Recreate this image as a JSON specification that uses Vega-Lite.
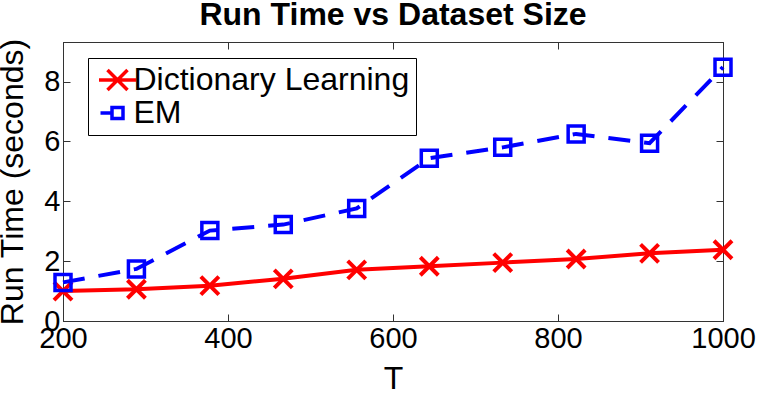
{
  "$schema": "https://vega.github.io/schema/vega-lite/v6.json",
  "width": 660,
  "height": 279,
  "autosize": "none",
  "padding": {"left": 63, "top": 42, "right": 38, "bottom": 76},
  "background": "white",
  "title": {
    "text": "Run Time vs Dataset Size",
    "font": "Liberation Sans",
    "fontSize": 32,
    "fontWeight": "bold",
    "color": "black",
    "anchor": "middle",
    "frame": "group",
    "baseline": "alphabetic",
    "offset": 15,
    "dy": 34
  },
  "data": {
    "values": [
      {"T": 200, "series": "Dictionary Learning", "time": 1.0},
      {"T": 289, "series": "Dictionary Learning", "time": 1.06},
      {"T": 378, "series": "Dictionary Learning", "time": 1.18},
      {"T": 467, "series": "Dictionary Learning", "time": 1.41},
      {"T": 556, "series": "Dictionary Learning", "time": 1.71},
      {"T": 644, "series": "Dictionary Learning", "time": 1.83},
      {"T": 733, "series": "Dictionary Learning", "time": 1.95},
      {"T": 822, "series": "Dictionary Learning", "time": 2.07},
      {"T": 911, "series": "Dictionary Learning", "time": 2.26},
      {"T": 1000, "series": "Dictionary Learning", "time": 2.38},
      {"T": 200, "series": "EM", "time": 1.29},
      {"T": 289, "series": "EM", "time": 1.74},
      {"T": 378, "series": "EM", "time": 3.02},
      {"T": 467, "series": "EM", "time": 3.22},
      {"T": 556, "series": "EM", "time": 3.76},
      {"T": 644, "series": "EM", "time": 5.44},
      {"T": 733, "series": "EM", "time": 5.8},
      {"T": 822, "series": "EM", "time": 6.25},
      {"T": 911, "series": "EM", "time": 5.94},
      {"T": 1000, "series": "EM", "time": 8.48}
    ]
  },
  "encoding": {
    "x": {"field": "T", "type": "quantitative", "scale": {"domain": [200, 1000], "nice": false, "zero": false}},
    "y": {"field": "time", "type": "quantitative", "scale": {"domain": [0, 9.32], "nice": false}}
  },
  "layer": [
    {
      "transform": [{"filter": "datum.series === 'Dictionary Learning'"}],
      "mark": {"type": "line", "color": "#ff0000", "strokeWidth": 4},
      "encoding": {
        "x": {"field": "T", "type": "quantitative", "axis": {"orient": "bottom", "values": [200, 400, 600, 800, 1000], "format": "d", "labelFlush": false, "title": "T", "titleY": 67, "titleBaseline": "alphabetic", "labelPadding": 10}},
        "y": {"field": "time", "type": "quantitative", "axis": {"orient": "left", "values": [0, 2, 4, 6, 8], "format": "d", "labelFlush": false, "title": "Run Time (seconds)", "titleX": -41, "titleBaseline": "alphabetic", "labelPadding": 10}}
      }
    },
    {
      "transform": [{"filter": "datum.series === 'Dictionary Learning'"}],
      "mark": {"type": "point", "shape": "M-1,-1L1,1M-1,1L1,-1", "size": 324, "filled": false, "color": "#ff0000", "strokeWidth": 4, "opacity": 1},
      "encoding": {
        "x": {"field": "T", "type": "quantitative", "axis": null},
        "y": {"field": "time", "type": "quantitative", "axis": null}
      }
    },
    {
      "transform": [{"filter": "datum.series === 'EM'"}],
      "mark": {"type": "line", "color": "#0000ff", "strokeWidth": 4, "strokeDash": [22, 14]},
      "encoding": {
        "x": {"field": "T", "type": "quantitative", "axis": {"orient": "top", "values": [200, 400, 600, 800, 1000], "labels": false, "title": null}},
        "y": {"field": "time", "type": "quantitative", "axis": {"orient": "right", "values": [0, 2, 4, 6, 8], "labels": false, "title": null}}
      }
    },
    {
      "transform": [{"filter": "datum.series === 'EM'"}],
      "mark": {"type": "point", "shape": "square", "size": 256, "filled": false, "color": "#0000ff", "strokeWidth": 3.5, "opacity": 1},
      "encoding": {
        "x": {"field": "T", "type": "quantitative", "axis": null},
        "y": {"field": "time", "type": "quantitative", "axis": null}
      }
    },
    {
      "transform": [{"filter": "datum.T < 0"}],
      "mark": {"type": "point", "filled": false, "size": 400, "strokeWidth": 3.5, "opacity": 1},
      "encoding": {
        "x": {"field": "T", "type": "quantitative", "axis": null},
        "y": {"field": "time", "type": "quantitative", "axis": null},
        "color": {
          "field": "series", "type": "nominal",
          "scale": {"domain": ["Dictionary Learning", "EM"], "range": ["#ff0000", "#0000ff"]},
          "legend": {
            "orient": "none", "legendX": 25, "legendY": 16, "title": null,
            "labelFont": "Liberation Sans", "labelFontSize": 32, "labelColor": "black", "labelLimit": 0,
            "labelOffset": 0, "rowPadding": -4, "padding": 6, "symbolOffset": 7.5,
            "strokeColor": "black", "fillColor": "white",
            "symbolStrokeWidth": 3.5, "symbolSize": 400, "symbolFillColor": "transparent"
          }
        },
        "shape": {
          "field": "series", "type": "nominal",
          "scale": {"domain": ["Dictionary Learning", "EM"], "range": ["M-1.85,0H1.85M-1,-1L1,1M-1,1L1,-1", "M-1.7,0H-0.55M-0.55,-0.55H0.55V0.55H-0.55Z"]},
          "legend": {
            "orient": "none", "legendX": 25, "legendY": 16, "title": null,
            "labelFont": "Liberation Sans", "labelFontSize": 32, "labelColor": "black", "labelLimit": 0,
            "labelOffset": 0, "rowPadding": -4, "padding": 6, "symbolOffset": 7.5,
            "strokeColor": "black", "fillColor": "white",
            "symbolStrokeWidth": 3.5, "symbolSize": 400, "symbolFillColor": "transparent"
          }
        }
      }
    }
  ],
  "resolve": {"axis": {"x": "independent", "y": "independent"}},
  "config": {
    "view": {"stroke": "#333333", "strokeWidth": 1},
    "font": "Liberation Sans",
    "axis": {
      "grid": false,
      "domainColor": "#333333",
      "domainWidth": 1,
      "tickColor": "#333333",
      "tickSize": -7,
      "tickWidth": 1,
      "labelFont": "Liberation Sans",
      "labelFontSize": 29,
      "labelColor": "black",
      "titleFont": "Liberation Sans",
      "titleFontSize": 32,
      "titleFontWeight": "normal",
      "titleColor": "black"
    }
  }
}
